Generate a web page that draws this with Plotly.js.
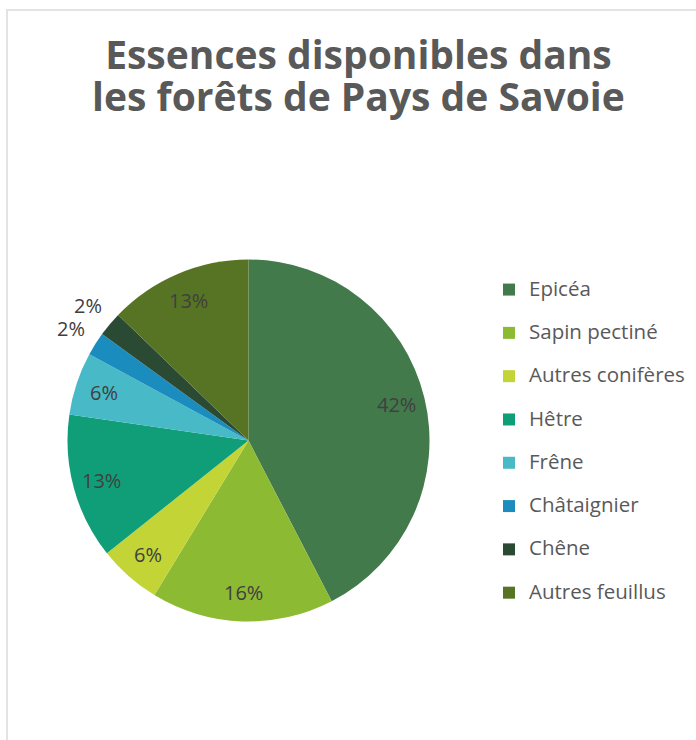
<!DOCTYPE html>
<html>
<head>
<meta charset="utf-8">
<script src="https://cdn.plot.ly/plotly-3.0.1.min.js"></script>
<style>
  html, body { margin: 0; padding: 0; background: #ffffff; overflow: hidden; }
  #chart { position: absolute; left: 0; top: 0; width: 696px; height: 740px; }
  #frame { position: absolute; left: 6px; top: 9px; width: 720px; height: 760px;
           border: 2px solid #e3e3e3; pointer-events: none; }
</style>
</head>
<body>
<div id="chart"></div>
<div id="frame"></div>
<script>
// Data
const categories = ["Epicéa", "Sapin pectiné", "Autres conifères", "Hêtre", "Frêne", "Châtaignier", "Chêne", "Autres feuillus"];
const shares = [42.4, 16.3, 5.6, 13.0, 5.6, 2.1, 2.2, 12.8];
const sliceColors = ["#427a4b", "#8cba33", "#c3d437", "#109e78", "#47b9c7", "#1a8cbe", "#2a4a33", "#577425"];
const labelPositions = ["inside", "inside", "inside", "inside", "inside", "outside", "outside", "inside"];

const W = 696, H = 740;
const cx = 248.5, cy = 440.5, R = 181;
const insideFactor = 0.84, outsideFactor = 1.16;
const pctFont = { family: '"Open Sans", sans-serif', size: 20, color: '#404040' };

const legendLabels = categories.map(c => '<span style="font-size:20.5px">' + c + '</span><br> ');

const total = shares.reduce((a, b) => a + b, 0);
let cum = 0;
const annotations = shares.map((s, i) => {
  const mid = (cum + s / 2) / total * 2 * Math.PI;
  cum += s;
  const f = labelPositions[i] === 'outside' ? outsideFactor : insideFactor;
  return {
    xref: 'paper', yref: 'paper',
    x: (cx + f * R * Math.sin(mid)) / W,
    y: (H - cy + f * R * Math.cos(mid)) / H,
    xanchor: 'center', yanchor: 'middle',
    text: Math.round(s / total * 100) + '%',
    showarrow: false,
    font: pctFont
  };
});

const trace = {
  type: 'pie',
  labels: legendLabels,
  values: shares,
  sort: false,
  direction: 'clockwise',
  rotation: 0,
  marker: { colors: sliceColors, line: { width: 0 } },
  textinfo: 'none',
  textposition: 'none',
  hoverinfo: 'none',
  domain: {
    x: [(cx - R) / W, (cx + R) / W],
    y: [(H - cy - R) / H, (H - cy + R) / H]
  },
  automargin: false
};

const layout = {
  width: W,
  height: H,
  margin: { l: 0, r: 0, t: 0, b: 0 },
  paper_bgcolor: '#ffffff',
  plot_bgcolor: '#ffffff',
  font: { family: '"Open Sans", sans-serif', color: '#595959' },
  title: {
    text: '<span style="font-size:39px">Essences disponibles dans</span><br><span style="font-size:39px">les forêts de Pays de Savoie</span>',
    font: { family: '"Open Sans", sans-serif', size: 32, color: '#595959', weight: 'bold' },
    x: 0.515,
    xanchor: 'center',
    xref: 'container',
    y: 1 - 69 / H,
    yanchor: 'top',
    yref: 'container'
  },
  annotations: annotations,
  showlegend: true,
  legend: {
    x: 489 / W,
    xanchor: 'left',
    y: 1 - 273 / H,
    yanchor: 'top',
    valign: 'top',
    font: { family: '"Open Sans", sans-serif', size: 15.5, color: '#595959' },
    bgcolor: 'rgba(0,0,0,0)',
    itemclick: false,
    itemdoubleclick: false
  }
};

Plotly.newPlot('chart', [trace], layout, { displayModeBar: false, staticPlot: true });
</script>
</body>
</html>
